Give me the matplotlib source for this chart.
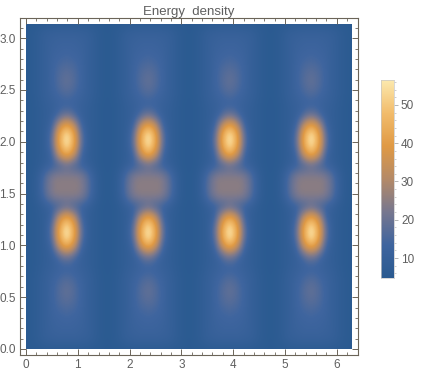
import numpy as np
import matplotlib.pyplot as plt
from matplotlib.colors import LinearSegmentedColormap
from matplotlib.patches import Rectangle

plt.rcParams['font.family'] = ['Liberation Sans', 'DejaVu Sans']

# energy, lower half of one cell:
# rows y = 0 .. pi/2, columns x = 0 .. pi/4 (the picture repeats from this)
cell = [
    [5, 5.5, 5.5, 5.5, 6, 6, 6, 6, 6],
    [5.5, 6, 7, 8.5, 9.5, 10, 10.5, 10.5, 10.5],
    [5.5, 6, 7, 8.5, 10, 11, 11.5, 12, 12],
    [5.5, 6, 7, 8.5, 10, 11.5, 12.5, 13, 13.5],
    [5.5, 6, 7, 8.5, 10, 12, 14, 15, 15.5],
    [5.5, 6, 7, 8.5, 10, 12.5, 15, 17, 18],
    [5.5, 6, 7, 8.5, 10, 12.5, 15, 17.5, 18.5],
    [5.5, 6, 7, 8.5, 10, 11.5, 13.5, 15, 16],
    [5.5, 5.5, 6.5, 7.5, 9, 10, 11, 12, 12],
    [5.5, 5.5, 6.5, 7.5, 8.5, 10, 13, 18, 20],
    [5.5, 5.5, 6.5, 7.5, 9, 13, 26, 36, 40],
    [5.5, 5.5, 6.5, 7.5, 10, 18, 34, 48, 56],
    [5.5, 5.5, 6.5, 7.5, 10, 18, 34, 47, 55],
    [5.5, 5.5, 6.5, 7.5, 9, 13, 26, 36, 40],
    [5.5, 5.5, 6.5, 8, 10, 12, 14, 16, 18],
    [5.5, 6, 8, 12, 18, 22, 24, 24, 24],
    [5.5, 6, 8, 13, 19, 23, 25, 25, 25],
]
periods = 4
x_max = 2 * np.pi
y_max = np.pi
v_min = 4.8
v_max = 56.5
x_ticks = [0, 1, 2, 3, 4, 5, 6]
y_ticks = [0.0, 0.5, 1.0, 1.5, 2.0, 2.5, 3.0]
bar_ticks = [10, 20, 30, 40, 50]
cmap_stops = ['#2a5a90', '#3f659f', '#77778f', '#b48a68', '#e09a45', '#f2bc6c', '#fce9ae']

W, H = 421, 375
gray = '#5f5f5f'
frame = '#6b6458'

half = np.array(cell)
# mirror into a full cell and repeat
rows = np.hstack([half, half[:, -2::-1]])
rows = np.hstack([rows[:, :-1]] * periods + [rows[:, :1]])
z = np.vstack([rows, rows[-2::-1]])

cmap = LinearSegmentedColormap.from_list('energy', cmap_stops)


def axes_px(left, top, right, bottom):
    return fig.add_axes([left / W, 1 - bottom / H, (right - left) / W, (bottom - top) / H])


fig = plt.figure(figsize=(W / 100, H / 100), dpi=100)
ax = axes_px(20, 18, 358, 355)

dx = x_max / (z.shape[1] - 1) / 2
dy = y_max / (z.shape[0] - 1) / 2
im = ax.imshow(z, origin='lower', aspect='auto', cmap=cmap, vmin=v_min, vmax=v_max,
               interpolation='bicubic', extent=[-dx, x_max + dx, -dy, y_max + dy])
im.set_clip_path(Rectangle((0, 0), x_max, y_max, transform=ax.transData))

ax.set_xlim(-0.116, 6.41)
ax.set_ylim(-0.058, 3.195)
ax.set_xticks(x_ticks)
ax.set_yticks(y_ticks)
ax.set_yticklabels(['%.1f' % t for t in y_ticks])
ax.set_xticks(np.arange(0, 6.3, 0.2), minor=True)
ax.set_yticks(np.arange(0, 3.15, 0.1), minor=True)
ax.tick_params(which='major', direction='in', length=4, width=0.7, color=frame,
               labelcolor=gray, labelsize=8.5, top=True, right=True, pad=3)
ax.tick_params(which='minor', direction='in', length=2, width=0.6, color=frame,
               top=True, right=True)
for s in ax.spines.values():
    s.set_color(frame)
    s.set_linewidth(0.8)
ax.set_title('Energy  density', color=gray, fontsize=9.5, pad=2)

cax = axes_px(381, 80, 394, 278)
grad = np.linspace(v_min, v_max, 256).reshape(-1, 1)
cax.imshow(grad, origin='lower', aspect='auto', cmap=cmap, vmin=v_min, vmax=v_max,
           extent=[0, 1, v_min, v_max])
cax.set_xticks([])
cax.yaxis.tick_right()
cax.set_yticks(bar_ticks)
cax.set_yticks(np.arange(6, 57, 2), minor=True)
cax.tick_params(which='major', direction='out', length=3, width=0.5, color='#999999',
                labelcolor=gray, labelsize=8.5, pad=2)
cax.tick_params(which='minor', direction='out', length=1.5, width=0.4, color='#aaaaaa')
for s in cax.spines.values():
    s.set_color('#c8c8c8')
    s.set_linewidth(0.5)

fig.savefig('out.png', dpi=100)
